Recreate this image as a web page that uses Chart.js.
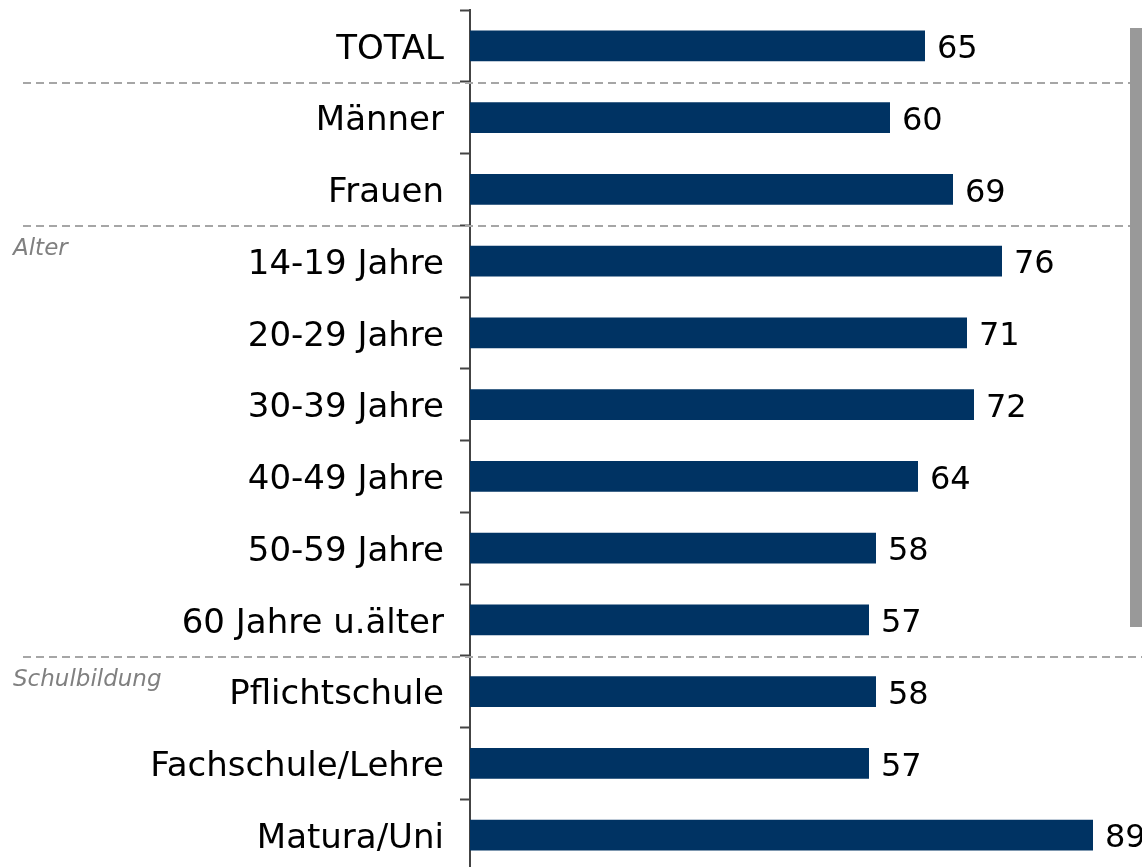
<!DOCTYPE html>
<html>
<head>
<meta charset="utf-8">
<script src="https://cdn.jsdelivr.net/npm/chart.js@4.4.1/dist/chart.umd.min.js"></script>
<style>
  html, body { margin: 0; padding: 0; background: #fff; overflow: hidden; }
  #wrap { width: 1142px; height: 872px; position: relative; }
</style>
</head>
<body>
<div id="wrap"><canvas id="chart"></canvas></div>
<script>
  // Daten
  const categories = ['TOTAL', 'Männer', 'Frauen', '14-19 Jahre', '20-29 Jahre', '30-39 Jahre',
    '40-49 Jahre', '50-59 Jahre', '60 Jahre u.älter', 'Pflichtschule', 'Fachschule/Lehre', 'Matura/Uni'];
  const values = [65, 60, 69, 76, 71, 72, 64, 58, 57, 58, 57, 89];
  // Trennlinien nach diesen Indizes
  const separatorsAfter = [0, 2, 8];
  // Gruppenbeschriftungen: Text + erster Index der Gruppe
  const groupNames = ['Alter', 'Schulbildung'];
  const groupStart = [3, 9];

  const FONT = '"DejaVu Sans", Verdana, sans-serif';

  // Zusatzgrafik: Werte, Trennlinien, Gruppen, grauer Balken rechts
  const extras = {
    id: 'extras',
    afterDatasetsDraw(chart) {
      const ctx = chart.ctx;
      const y = chart.scales.y;
      const meta = chart.getDatasetMeta(0);
      ctx.save();

      // gestrichelte Trennlinien
      ctx.strokeStyle = '#a6a6a6';
      ctx.lineWidth = 2;
      ctx.setLineDash([8, 5]);
      separatorsAfter.forEach((i) => {
        const yy = Math.round((y.getPixelForTick(i) + y.getPixelForTick(i + 1)) / 2) + 1;
        ctx.beginPath();
        ctx.moveTo(23, yy);
        ctx.lineTo(1142, yy);
        ctx.stroke();
      });
      ctx.setLineDash([]);

      // Gruppenbeschriftungen
      ctx.fillStyle = '#808080';
      ctx.font = 'italic 23px ' + FONT;
      ctx.textAlign = 'left';
      ctx.textBaseline = 'alphabetic';
      groupNames.forEach((g, k) => {
        ctx.fillText(g, 13, y.getPixelForTick(groupStart[k]) - 6);
      });

      // Wertbeschriftungen
      ctx.fillStyle = '#000';
      ctx.font = '32px ' + FONT;
      ctx.textBaseline = 'middle';
      meta.data.forEach((bar, i) => {
        ctx.fillText(String(values[i]), bar.x + 12, bar.y + 4);
      });

      // grauer Balken am rechten Rand
      ctx.fillStyle = '#999999';
      ctx.fillRect(1130, 28, 12, 599);
      ctx.restore();
    }
  };

  new Chart(document.getElementById('chart'), {
    type: 'bar',
    data: {
      labels: categories,
      datasets: [{
        data: values,
        backgroundColor: '#003363',
        borderWidth: 0,
        categoryPercentage: 1,
        barPercentage: 0.43
      }]
    },
    options: {
      indexAxis: 'y',
      responsive: true,
      maintainAspectRatio: false,
      animation: false,
      layout: { padding: { top: 10, bottom: 1, left: 0, right: 0 } },
      plugins: { legend: { display: false }, tooltip: { enabled: false } },
      scales: {
        x: { display: false, min: 0, max: 96 },
        y: {
          offset: true,
          grid: {
            display: true,
            offset: true,
            drawOnChartArea: false,
            drawTicks: true,
            tickLength: 10,
            tickWidth: 2,
            color: '#444'
          },
          border: { display: true, color: '#444', width: 2 },
          ticks: {
            color: '#000',
            padding: 16,
            labelOffset: 4,
            font: { family: FONT, size: 34 }
          },
          afterFit(scale) {
            scale.width = 470;
            scale.paddingTop = 0;
            scale.paddingBottom = 0;
          }
        }
      }
    },
    plugins: [extras]
  });
</script>
</body>
</html>
